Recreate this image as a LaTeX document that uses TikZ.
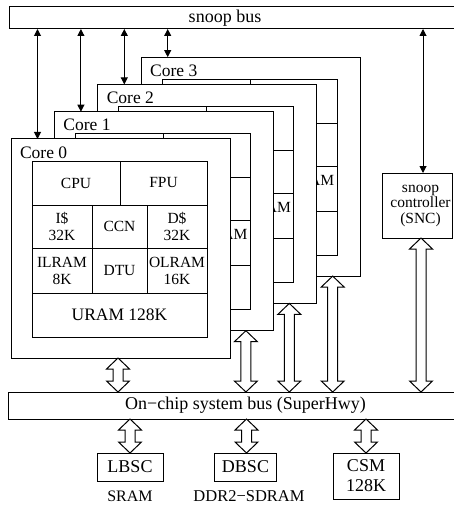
\documentclass[tikz,border=0pt]{standalone}
\usepackage{fontspec}
\setmainfont{Liberation Serif}
\usetikzlibrary{arrows.meta,calc}
\begin{document}
\begin{tikzpicture}[x=1pt,y=-1pt,
  every node/.style={inner sep=0pt, outer sep=0pt},
  box/.style={draw, line width=1pt, fill=white},
  lbl/.style={font=\fontsize{18}{20}\selectfont},
  corelbl/.style={font=\fontsize{17.5}{20}\selectfont},
  cell/.style={draw, line width=1pt, anchor=north west, align=center, font=\fontsize{15.5}{17}\selectfont},
  snooparrow/.style={line width=1pt, {Triangle[length=7pt,width=7pt]}-{Triangle[length=7pt,width=7pt]}},
  hollow/.style={draw, line width=1pt, fill=white, to path={let \p1=(\tikztostart), \p2=(\tikztotarget) in (\x1,\y1) -- (\x1+11.5pt,\y1-11pt) -- (\x1+5pt,\y1-11pt) -- (\x1+5pt,\y2+11pt) -- (\x1+11.5pt,\y2+11pt) -- (\x1,\y2) -- (\x1-11.5pt,\y2+11pt) -- (\x1-5pt,\y2+11pt) -- (\x1-5pt,\y1-11pt) -- (\x1-11.5pt,\y1-11pt) -- cycle}}
]
\useasboundingbox (0,0) rectangle (454,505);

% snoop bus
\node[box, minimum width=452pt, minimum height=22pt, anchor=north west] (snoop) at (9,7) {};
\node[lbl] (snooplbl) at (225,18) {snoop bus};

% back cores (only the visible fragment of their text is printed)
\foreach \k in {3,2,1} {
  \begin{scope}[shift={(11+43.4*\k, 139-27.3*\k)}]
    \node[box, minimum width=219pt, minimum height=219pt, anchor=north west] (c\k) at (0,0) {};
    \node[corelbl, anchor=west] (cl\k) at (9,13.5) {Core \k};
    \node[cell, minimum width=88pt, minimum height=44pt] (cpu\k) at (21,22) {};
    \node[cell, minimum width=87pt, minimum height=44pt] (fpu\k) at (109,22) {};
    \node[cell, minimum width=60pt, minimum height=43pt] (is\k) at (21,66) {};
    \node[cell, minimum width=55pt, minimum height=43pt] (ccn\k) at (81,66) {};
    \node[cell, minimum width=60pt, minimum height=43pt] (ds\k) at (136,66) {};
    \node[cell, minimum width=60pt, minimum height=45pt] (ilram\k) at (21,109) {};
    \node[cell, minimum width=55pt, minimum height=45pt] (dtu\k) at (81,109) {};
    \node[cell, minimum width=60pt, minimum height=45pt] (olram\k) at (136,109) {};
    \node[font=\fontsize{15.5}{17}\selectfont, anchor=east] (am\k) at (193,123) {AM};
    \node[cell, minimum width=175pt, minimum height=44pt] (uram\k) at (21,154) {};
  \end{scope}
}

% front core
\begin{scope}[shift={(11,139)}]
  \node[box, minimum width=219pt, minimum height=219pt, anchor=north west] (c0) at (0,0) {};
  \node[corelbl, anchor=west] (cl0) at (9,13.5) {Core 0};
  \node[cell, minimum width=88pt, minimum height=44pt] (cpu0) at (21,22) {CPU};
  \node[cell, minimum width=87pt, minimum height=44pt] (fpu0) at (109,22) {FPU};
  \node[cell, minimum width=60pt, minimum height=43pt] (is0) at (21,66) {I\$\\32K};
  \node[cell, minimum width=55pt, minimum height=43pt] (ccn0) at (81,66) {CCN};
  \node[cell, minimum width=60pt, minimum height=43pt] (ds0) at (136,66) {D\$\\32K};
  \node[cell, minimum width=60pt, minimum height=45pt] (ilram0) at (21,109) {ILRAM\\8K};
  \node[cell, minimum width=55pt, minimum height=45pt] (dtu0) at (81,109) {DTU};
  \node[cell, minimum width=60pt, minimum height=45pt] (olram0) at (136,109) {OLRAM\\16K};
  \node[cell, minimum width=175pt, minimum height=44pt, font=\fontsize{17.5}{20}\selectfont] (uram0) at (21,154) {URAM 128K};
\end{scope}

% snoop arrows to cores
\foreach \k in {0,1,2,3} {
  \draw[snooparrow] ([xshift=26.5pt]c\k.north west |- snoop.south) -- ([xshift=26.5pt]c\k.north west);
}

% snoop controller
\node[box, minimum width=70pt, minimum height=65pt] (snc) at (417,205.5) {};
\node[align=center, font=\fontsize{15.5}{15.5}\selectfont] (snclbl) at (420.5,205.5) {snoop\\controller\\(SNC)};
\draw[snooparrow] ([xshift=6pt]snc.north |- snoop.south) -- ([xshift=6pt]snc.north);

% on-chip bus
\node[box, minimum width=480pt, minimum height=27pt, anchor=north west] (bus) at (8,392) {};
\node[lbl] (buslbl) at (245.5,405.5) {On−chip system bus (SuperHwy)};

% hollow arrows cores -> bus
\draw[hollow] ([xshift=-112pt]c0.south east) to ([xshift=-112pt]c0.south east |- bus.north);
\foreach \k in {1,2,3} {
  \draw[hollow] ([xshift=-27.5pt]c\k.south east) to ([xshift=-27.5pt]c\k.south east |- bus.north);
}
\draw[hollow] ([xshift=4pt]snc.south) to ([xshift=4pt]snc.south |- bus.north);

% bottom boxes
\node[box, minimum width=66pt, minimum height=28pt, font=\fontsize{18}{20}\selectfont] (lbsc) at (130,467) {LBSC};
\node[box, minimum width=62pt, minimum height=28pt, font=\fontsize{18}{20}\selectfont] (dbsc) at (245.5,467) {DBSC};
\node[box, minimum width=66pt, minimum height=46pt, align=center, font=\fontsize{18}{20}\selectfont] (csm) at (366,476) {CSM\\128K};
\node[font=\fontsize{16}{18}\selectfont] (sram) at (130,496.5) {SRAM};
\node[font=\fontsize{16.5}{18}\selectfont] (ddr) at (249,496.5) {DDR2−SDRAM};

\draw[hollow] (lbsc.north |- bus.south) to (lbsc.north);
\draw[hollow] ([xshift=1pt]dbsc.north |- bus.south) to ([xshift=1pt]dbsc.north);
\draw[hollow] (csm.north |- bus.south) to (csm.north);
\end{tikzpicture}
\end{document}
